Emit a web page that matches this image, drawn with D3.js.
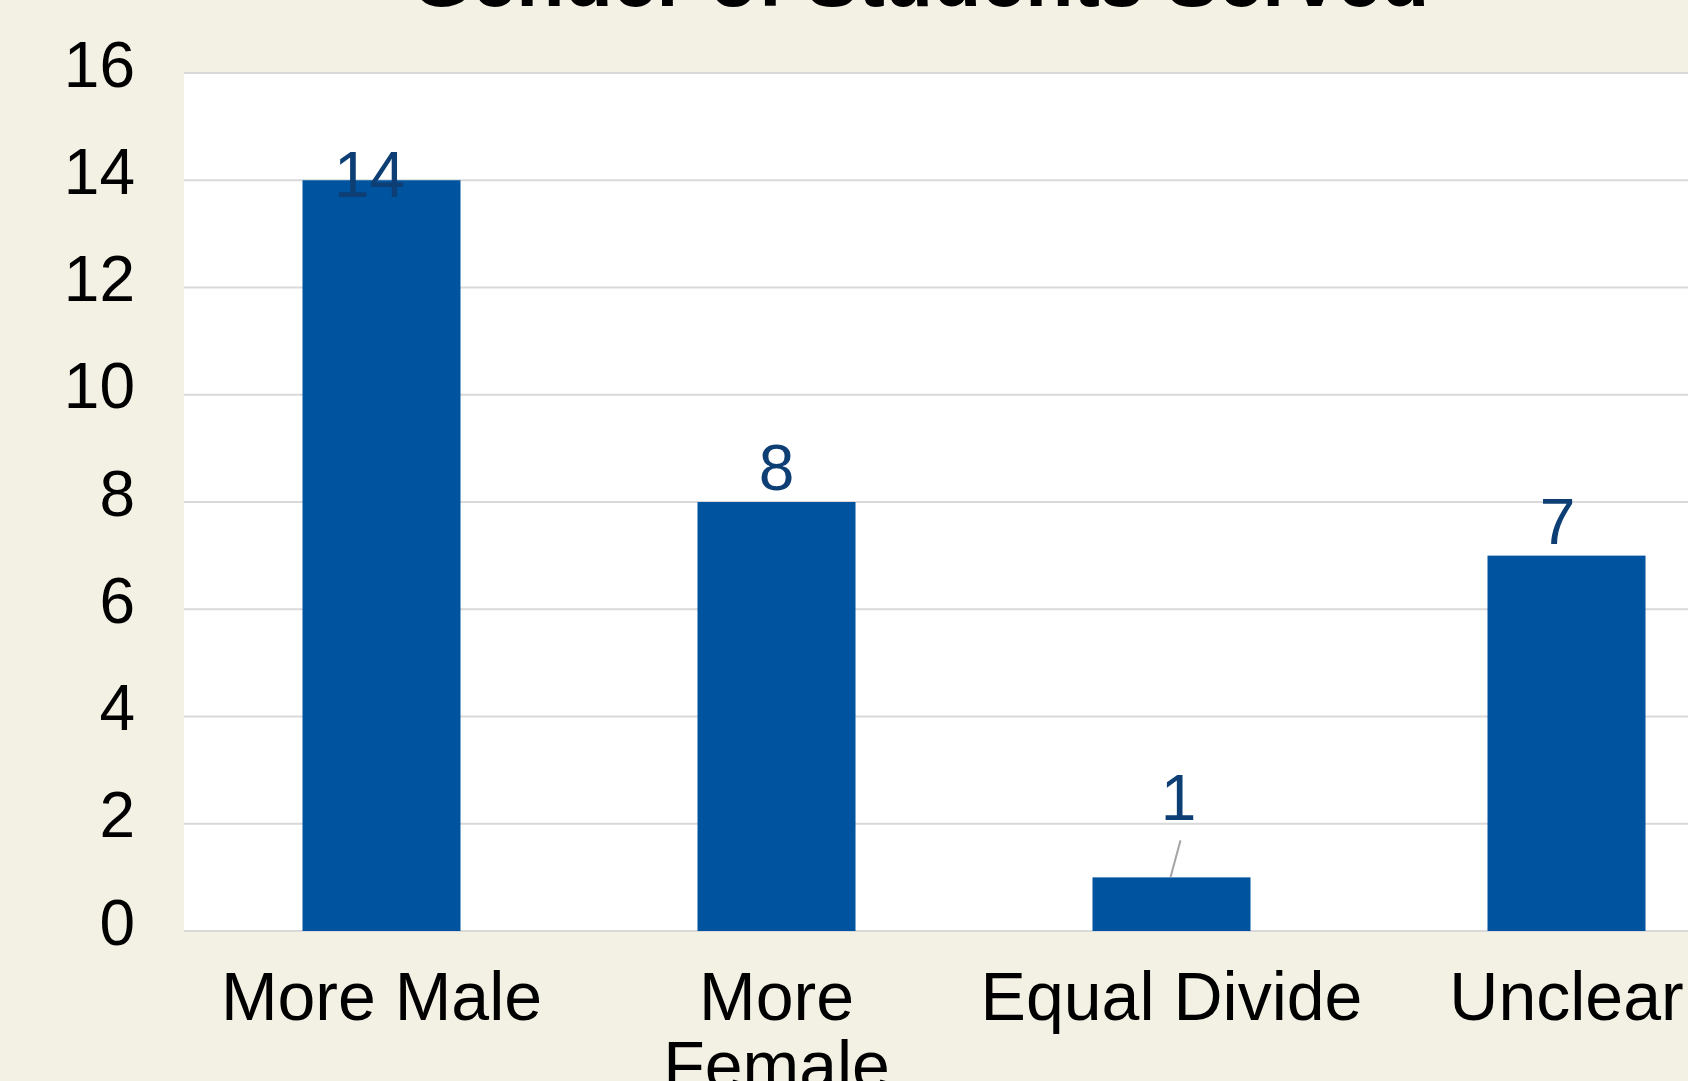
<!DOCTYPE html>
<html>
<head>
<meta charset="utf-8">
<script src="https://cdn.jsdelivr.net/npm/d3@7"></script>
<style>
  body { margin: 0; overflow: hidden; background: #f3f1e4; }
  svg { display: block; }
</style>
</head>
<body>
<div id="chart"></div>
<script>
// data
var categories = ["More Male", "More Female", "Equal Divide", "Unclear"],
    counts = [14, 8, 1, 7],
    yTicks = [0, 2, 4, 6, 8, 10, 12, 14, 16];

// label nudges (dx, dy in px)
var labelShift = [[-12, 17], [0, -12], [7, -57], [-9, -12]];

var width = 1688,
    height = 1081,
    plotLeft = 184,
    plotTop = 73,
    plotBottom = 931,
    plotRight = 1764; // runs past the window edge like the original

var font = "'Liberation Sans', Arial, Helvetica, sans-serif";

var svg = d3.select("#chart").append("svg")
    .attr("width", width)
    .attr("height", height)
    .style("background", "#f3f1e4");

var x = d3.scaleBand()
    .domain(categories)
    .range([plotLeft, plotRight])
    .paddingInner(0.6)
    .paddingOuter(0.3);

var y = d3.scaleLinear()
    .domain([0, 16])
    .range([plotBottom, plotTop]);

// plot area
svg.append("rect")
    .attr("x", plotLeft)
    .attr("y", plotTop)
    .attr("width", plotRight - plotLeft)
    .attr("height", plotBottom - plotTop)
    .style("fill", "white");

// gridlines
svg.append("g").selectAll("line")
    .data(yTicks)
    .enter().append("line")
    .attr("x1", plotLeft)
    .attr("x2", plotRight)
    .attr("y1", function (d) { return y(d); })
    .attr("y2", function (d) { return y(d); })
    .style("stroke", "#d9d9d9")
    .style("stroke-width", 2);

// y axis labels
var yAxis = d3.axisLeft(y).tickValues(yTicks).tickSize(0).tickPadding(49);
var yg = svg.append("g")
    .attr("transform", "translate(" + plotLeft + ",0)")
    .call(yAxis);
yg.select(".domain").remove();
yg.selectAll("text")
    .attr("dy", "13px")
    .style("font-family", font)
    .style("font-size", "64px")
    .style("fill", "black");

// bars
svg.append("g").selectAll("rect")
    .data(counts)
    .enter().append("rect")
    .attr("x", function (d, i) { return x(categories[i]); })
    .attr("y", function (d) { return y(d); })
    .attr("width", x.bandwidth())
    .attr("height", function (d) { return y(0) - y(d); })
    .style("fill", "#00539f");

// leader line for the small bar
var small = 2;
svg.append("line")
    .attr("x1", x(categories[small]) + x.bandwidth() / 2 - 1)
    .attr("y1", y(counts[small]))
    .attr("x2", x(categories[small]) + x.bandwidth() / 2 + 9)
    .attr("y2", y(counts[small]) - 37)
    .style("stroke", "#a6a6a6")
    .style("stroke-width", 2);

// value labels
svg.append("g").selectAll("text")
    .data(counts)
    .enter().append("text")
    .attr("x", function (d, i) { return x(categories[i]) + x.bandwidth() / 2 + labelShift[i][0]; })
    .attr("y", function (d, i) { return y(d) + labelShift[i][1]; })
    .attr("text-anchor", "middle")
    .text(function (d) { return d; })
    .style("font-family", font)
    .style("font-size", "64px")
    .style("fill", "#0d3f75");

// category labels, wrapped to the band width
var xg = svg.append("g");
categories.forEach(function (c) {
    var cx = x(c) + x.bandwidth() / 2;
    var t = xg.append("text")
        .attr("x", cx)
        .attr("y", 1020)
        .attr("text-anchor", "middle")
        .style("font-family", font)
        .style("font-size", "68px")
        .style("fill", "black");
    var words = c.split(" "), line = [], tspan = t.append("tspan").attr("x", cx);
    words.forEach(function (w) {
        line.push(w);
        tspan.text(line.join(" "));
        if (tspan.node().getComputedTextLength() > x.step() - 5 && line.length > 1) {
            line.pop();
            tspan.text(line.join(" "));
            line = [w];
            tspan = t.append("tspan")
                .attr("x", cx)
                .attr("dy", "69px")
                .text(w);
        }
    });
});

// title, cut off at the top like the original
svg.append("text")
    .attr("x", 920)
    .attr("y", 6)
    .attr("text-anchor", "middle")
    .text("Gender of Students Served")
    .style("font-family", font)
    .style("font-size", "79px")
    .style("font-weight", "bold")
    .style("fill", "black");
</script>
</body>
</html>
